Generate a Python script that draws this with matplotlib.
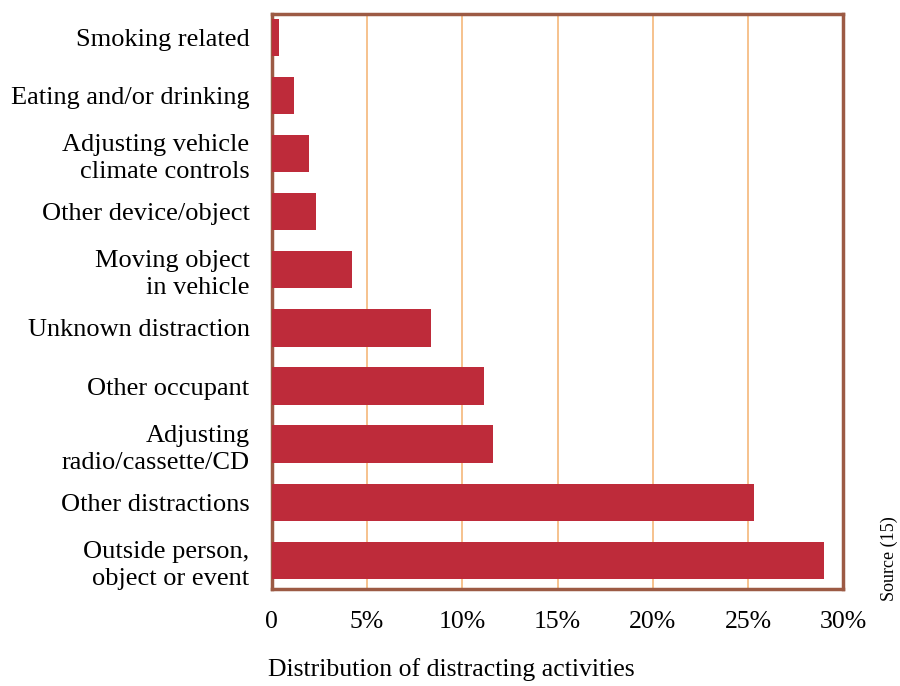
import matplotlib
matplotlib.use("Agg")
import matplotlib.pyplot as plt

plt.rcParams["font.family"] = ["Liberation Serif", "DejaVu Serif"]

# ---- Data (percent of distracting activities) ----
categories = [
    "Outside person,\nobject or event",
    "Other distractions",
    "Adjusting\nradio/cassette/CD",
    "Other occupant",
    "Unknown distraction",
    "Moving object\nin vehicle",
    "Other device/object",
    "Adjusting vehicle\nclimate controls",
    "Eating and/or drinking",
    "Smoking related",
]
shares = [29.0, 25.3, 11.6, 11.15, 8.35, 4.2, 2.3, 1.95, 1.15, 0.4]
xticks = [0, 5, 10, 15, 20, 25, 30]
xtick_labels = ["0", "5%", "10%", "15%", "20%", "25%", "30%"]

bar_color = "#BE2B3A"
frame_color = "#9C5A44"
grid_color = "#F5B87A"

fig = plt.figure(figsize=(9, 6.86), dpi=100)
ax = fig.add_axes([0.302, 0.141, 0.635, 0.839])

pos = range(len(categories))
ax.barh(pos, shares, height=0.64, color=bar_color, zorder=3)

ax.set_xlim(0, 30)
ax.set_ylim(-0.5, 9.41)
ax.set_yticks(list(pos))
ax.set_yticklabels(categories, fontsize=19, multialignment="right", linespacing=1.3)
ax.set_xticks(xticks)
ax.set_xticklabels(xtick_labels, fontsize=18.5)
ax.tick_params(axis="both", length=0)
ax.tick_params(axis="y", pad=16)
ax.tick_params(axis="x", pad=16)

ax.xaxis.grid(True, color=grid_color, linewidth=1.2, zorder=1)
ax.yaxis.grid(False)
for s in ax.spines.values():
    s.set_color(frame_color)
    s.set_linewidth(2.5)

ax.set_xlabel("Distribution of distracting activities", fontsize=18.5)
ax.xaxis.set_label_coords(-0.007, -0.12)
ax.xaxis.label.set_horizontalalignment("left")

fig.text(0.988, 0.185, "Source (15)", rotation=90, fontsize=13,
         ha="center", va="center")

plt.savefig("out.png", dpi=100)
